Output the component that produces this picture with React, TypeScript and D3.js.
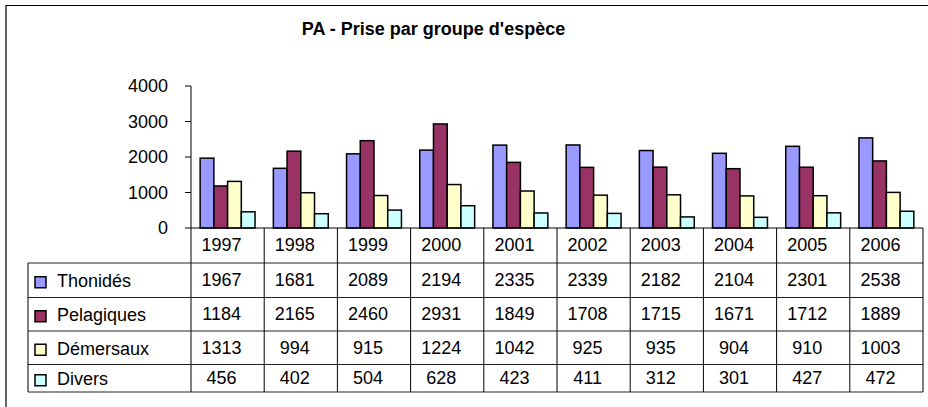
import React from "react";
import * as d3 from "d3";

const years = ["1997", "1998", "1999", "2000", "2001", "2002", "2003", "2004", "2005", "2006"];
const thonides = [1967, 1681, 2089, 2194, 2335, 2339, 2182, 2104, 2301, 2538];
const pelagiques = [1184, 2165, 2460, 2931, 1849, 1708, 1715, 1671, 1712, 1889];
const demersaux = [1313, 994, 915, 1224, 1042, 925, 935, 904, 910, 1003];
const divers = [456, 402, 504, 628, 423, 411, 312, 301, 427, 472];
const seriesNames = ["Thonidés", "Pelagiques", "Démersaux", "Divers"];
const seriesColors = ["#9999FF", "#993366", "#FFFFCC", "#CCFFFF"];
const yTicks = [0, 1000, 2000, 3000, 4000];
const title = "PA - Prise par groupe d'espèce";

const W = 928;
const H = 407;
const FONT = "'Liberation Sans', Arial, Helvetica, sans-serif";
const FS = 18;

export default function App() {
  const series = [thonides, pelagiques, demersaux, divers];
  const plotLeft = 191;
  const plotRight = 923;
  const tableLeft = 28;
  const x = d3.scaleBand<string>().domain(years).range([plotLeft, plotRight]).paddingInner(0.25).paddingOuter(0.125);
  const step = x.step();
  const xs = d3.scaleBand<string>().domain(seriesNames).range([0, x.bandwidth()]);
  const y = d3.scaleLinear().domain([0, 4000]).range([228, 86]);
  const y0 = y(0);
  const rowEdges = [y0, 263, 297.5, 331, 364.5, 392];
  const colStart = (i: number) => plotLeft + i * step;
  const textShift = -6;

  return (
    <svg width={W} height={H} style={{ position: "absolute", left: 0, top: 0, background: "#fff" }} fontFamily={FONT}>
      <rect x={0} y={0} width={W} height={H} fill="#fff" />
      <path d={`M6,${H} V5.5 H${W}`} fill="none" stroke="#000" strokeWidth={1.2} />
      <text x={433.5} y={35} textAnchor="middle" fontWeight="bold" fontSize={FS} fill="#000">{title}</text>

      {/* y axis */}
      <line x1={plotLeft} x2={plotLeft} y1={y(4000)} y2={rowEdges[rowEdges.length - 1]} stroke="#000" strokeWidth={1} />
      {yTicks.map((t) => (
        <g key={t}>
          <line x1={185} x2={plotLeft} y1={y(t)} y2={y(t)} stroke="#000" strokeWidth={1} />
          <text x={168} y={y(t) + 6.3} textAnchor="end" fontSize={FS} fill="#000">{t}</text>
        </g>
      ))}

      {/* bars */}
      {series.map((vals, si) =>
        years.map((yr, i) => (
          <rect
            key={`${si}-${yr}`}
            x={(x(yr) as number) + (xs(seriesNames[si]) as number)}
            y={y(vals[i])}
            width={xs.bandwidth()}
            height={y0 - y(vals[i])}
            fill={seriesColors[si]}
            stroke="#000"
            strokeWidth={1.5}
          />
        ))
      )}

      {/* data table */}
      <line x1={plotLeft} x2={plotRight} y1={y0} y2={y0} stroke="#000" strokeWidth={1} />
      {rowEdges.slice(1).map((ry, k) => (
        <line key={`h${k}`} x1={tableLeft} x2={plotRight} y1={ry} y2={ry} stroke="#222" strokeWidth={1} />
      ))}
      <line x1={tableLeft} x2={tableLeft} y1={rowEdges[1]} y2={rowEdges[5]} stroke="#000" strokeWidth={1} />
      {years.map((yr, i) => (
        <line key={`v${yr}`} x1={colStart(i + 1)} x2={colStart(i + 1)} y1={y0} y2={rowEdges[5]} stroke="#000" strokeWidth={1} />
      ))}
      {years.map((yr, i) => (
        <text key={`yr${yr}`} x={colStart(i) + step / 2 + textShift} y={(rowEdges[0] + rowEdges[1]) / 2 + 5.5} textAnchor="middle" fontSize={FS} fill="#000">{yr}</text>
      ))}
      {series.map((vals, si) => {
        const mid = (rowEdges[si + 1] + rowEdges[si + 2]) / 2;
        return (
          <g key={`row${si}`}>
            <rect x={35} y={mid - 3.5} width={11} height={11} fill={seriesColors[si]} stroke="#000" strokeWidth={1.5} />
            <text x={57} y={mid + 7} fontSize={FS} fill="#000">{seriesNames[si]}</text>
            {vals.map((v, i) => (
              <text key={i} x={colStart(i) + step / 2 + textShift} y={mid + 6} textAnchor="middle" fontSize={FS} fill="#000">{v}</text>
            ))}
          </g>
        );
      })}
    </svg>
  );
}
